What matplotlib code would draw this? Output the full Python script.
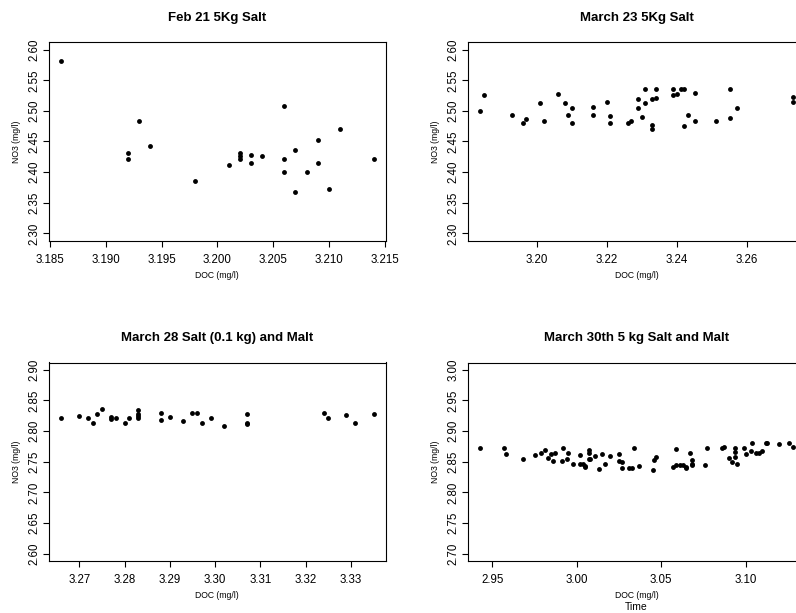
import matplotlib

matplotlib.use("Agg")
import matplotlib.pyplot as plt
from matplotlib.ticker import FormatStrFormatter, MultipleLocator


# Feb 21, 5 kg salt
feb21_doc = [3.186, 3.192, 3.192, 3.193, 3.194, 3.198, 3.201, 3.202, 3.202, 3.202,
             3.203, 3.203, 3.204, 3.206, 3.206, 3.206, 3.207, 3.207, 3.208, 3.209,
             3.209, 3.210, 3.211, 3.214]
feb21_no3 = [2.581, 2.431, 2.421, 2.484, 2.442, 2.386, 2.412, 2.431, 2.427, 2.421,
             2.428, 2.415, 2.427, 2.508, 2.421, 2.401, 2.436, 2.368, 2.400, 2.452,
             2.415, 2.373, 2.471, 2.421]

# March 23, 5 kg salt
mar23_doc = [3.184, 3.185, 3.193, 3.196, 3.197, 3.201, 3.202, 3.206, 3.208, 3.209,
             3.210, 3.210, 3.216, 3.216, 3.220, 3.221, 3.221, 3.226, 3.227, 3.229,
             3.229, 3.230, 3.231, 3.231, 3.233, 3.233, 3.233, 3.234, 3.234, 3.239,
             3.239, 3.240, 3.241, 3.242, 3.242, 3.243, 3.245, 3.245, 3.251, 3.255,
             3.255, 3.257, 3.273, 3.273]
mar23_no3 = [2.500, 2.526, 2.494, 2.481, 2.487, 2.513, 2.484, 2.528, 2.513, 2.494,
             2.505, 2.481, 2.506, 2.493, 2.514, 2.491, 2.481, 2.480, 2.483, 2.520,
             2.504, 2.490, 2.535, 2.513, 2.520, 2.477, 2.470, 2.535, 2.521, 2.535,
             2.526, 2.527, 2.536, 2.536, 2.476, 2.493, 2.529, 2.484, 2.483, 2.535,
             2.489, 2.504, 2.522, 2.514]

# March 28, 0.1 kg salt and malt
mar28_doc = [3.266, 3.270, 3.272, 3.273, 3.274, 3.275, 3.277, 3.277, 3.278, 3.280,
             3.281, 3.283, 3.283, 3.283, 3.283, 3.288, 3.288, 3.290, 3.293, 3.295,
             3.296, 3.297, 3.299, 3.302, 3.307, 3.307, 3.307, 3.324, 3.325, 3.329,
             3.331, 3.335]
mar28_no3 = [2.821, 2.825, 2.822, 2.814, 2.828, 2.836, 2.823, 2.819, 2.822, 2.813,
             2.821, 2.835, 2.828, 2.825, 2.822, 2.830, 2.818, 2.823, 2.817, 2.829,
             2.830, 2.814, 2.822, 2.808, 2.828, 2.813, 2.812, 2.829, 2.821, 2.827,
             2.813, 2.828]

# March 30, 5 kg salt and malt
mar30_doc = [2.943, 2.957, 2.958, 2.968, 2.975, 2.979, 2.981, 2.983, 2.985, 2.987,
             2.986, 2.992, 2.991, 2.994, 2.995, 2.998, 3.002, 3.002, 3.004, 3.005,
             3.005, 3.007, 3.007, 3.007, 3.008, 3.011, 3.013, 3.015, 3.017, 3.020,
             3.025, 3.025, 3.027, 3.027, 3.031, 3.033, 3.034, 3.037, 3.045, 3.046,
             3.047, 3.057, 3.059, 3.059, 3.061, 3.063, 3.065, 3.065, 3.067, 3.068,
             3.068, 3.068, 3.076, 3.077, 3.086, 3.087, 3.090, 3.092, 3.094, 3.094,
             3.094, 3.095, 3.099, 3.100, 3.103, 3.104, 3.106, 3.108, 3.110, 3.112,
             3.113, 3.120, 3.126, 3.128]
mar30_no3 = [2.872, 2.872, 2.863, 2.854, 2.861, 2.865, 2.869, 2.856, 2.863, 2.864,
             2.852, 2.872, 2.851, 2.855, 2.864, 2.846, 2.861, 2.846, 2.847, 2.843,
             2.842, 2.869, 2.865, 2.855, 2.855, 2.860, 2.838, 2.863, 2.846, 2.860,
             2.863, 2.851, 2.849, 2.839, 2.839, 2.839, 2.872, 2.843, 2.837, 2.853,
             2.858, 2.842, 2.844, 2.870, 2.844, 2.844, 2.842, 2.839, 2.864, 2.853,
             2.847, 2.845, 2.844, 2.872, 2.872, 2.874, 2.856, 2.850, 2.866, 2.858,
             2.872, 2.847, 2.873, 2.863, 2.868, 2.880, 2.865, 2.864, 2.868, 2.881,
             2.881, 2.879, 2.881, 2.874]

titles = ["Feb 21 5Kg Salt", "March 23 5Kg Salt",
          "March 28 Salt (0.1 kg) and Malt", "March 30th 5 kg Salt and Malt"]
y_ranges = [(2.30, 2.60), (2.30, 2.60), (2.60, 2.90), (2.70, 3.00)]
x_steps = [0.005, 0.02, 0.01, 0.05]
x_formats = ["%.3f", "%.2f", "%.2f", "%.2f"]

W, H = 796, 613
# panel boxes in pixels: left, right, top, bottom (right column runs off the page)
BOXES = [(48.7, 386.0, 42.3, 240.7), (468.0, 805.3, 42.3, 240.7),
         (48.7, 386.0, 362.5, 561.0), (468.0, 805.3, 362.5, 561.0)]

FONT = "Liberation Sans"
plt.rcParams["font.family"] = [FONT, "DejaVu Sans"]


def r_range(lo, hi, frac=0.04):
    pad = (hi - lo) * frac
    return lo - pad, hi + pad


fig = plt.figure(figsize=(W / 100, H / 100), dpi=100)
fig.patch.set_facecolor("white")

panels = [(feb21_doc, feb21_no3), (mar23_doc, mar23_no3),
          (mar28_doc, mar28_no3), (mar30_doc, mar30_no3)]

for i, (doc, no3) in enumerate(panels):
    left, right, top, bottom = BOXES[i]
    ax = fig.add_axes([left / W, 1 - bottom / H, (right - left) / W, (bottom - top) / H])
    ax.plot(doc, no3, "o", color="black", markersize=3.5, markeredgewidth=0)

    ax.margins(x=0.04)
    ax.set_ylim(*r_range(*y_ranges[i]))
    ax.yaxis.set_major_locator(MultipleLocator(0.05))
    ax.yaxis.set_major_formatter(FormatStrFormatter("%.2f"))
    ax.xaxis.set_major_locator(MultipleLocator(x_steps[i]))
    ax.xaxis.set_major_formatter(FormatStrFormatter(x_formats[i]))

    for side in ("top", "right", "bottom", "left"):
        ax.spines[side].set_linewidth(0.8)
        ax.spines[side].set_color("black")
    ax.tick_params(axis="both", direction="out", length=4.3, width=0.8,
                   labelsize=8.3, colors="black")
    ax.tick_params(axis="x", pad=5.2)
    ax.tick_params(axis="y", pad=2.0, labelrotation=90)
    for lab in ax.get_yticklabels():
        lab.set_va("center")

    ax.set_xlabel("DOC (mg/l)", fontsize=6.2, va="center")
    ax.xaxis.set_label_coords(0.5, -34.7 / (bottom - top))
    ax.set_ylabel("NO3 (mg/l)", fontsize=6.2, va="center")
    ax.yaxis.set_label_coords(-32.5 / (right - left), 0.5)
    ax.set_title(titles[i], fontsize=9.5, fontweight="bold", pad=15.5)

    if i == 3:
        ax.text(0.5, -46.0 / (bottom - top), "Time", transform=ax.transAxes,
                ha="center", va="center", fontsize=7.5)

fig.savefig("out.png", dpi=100)
